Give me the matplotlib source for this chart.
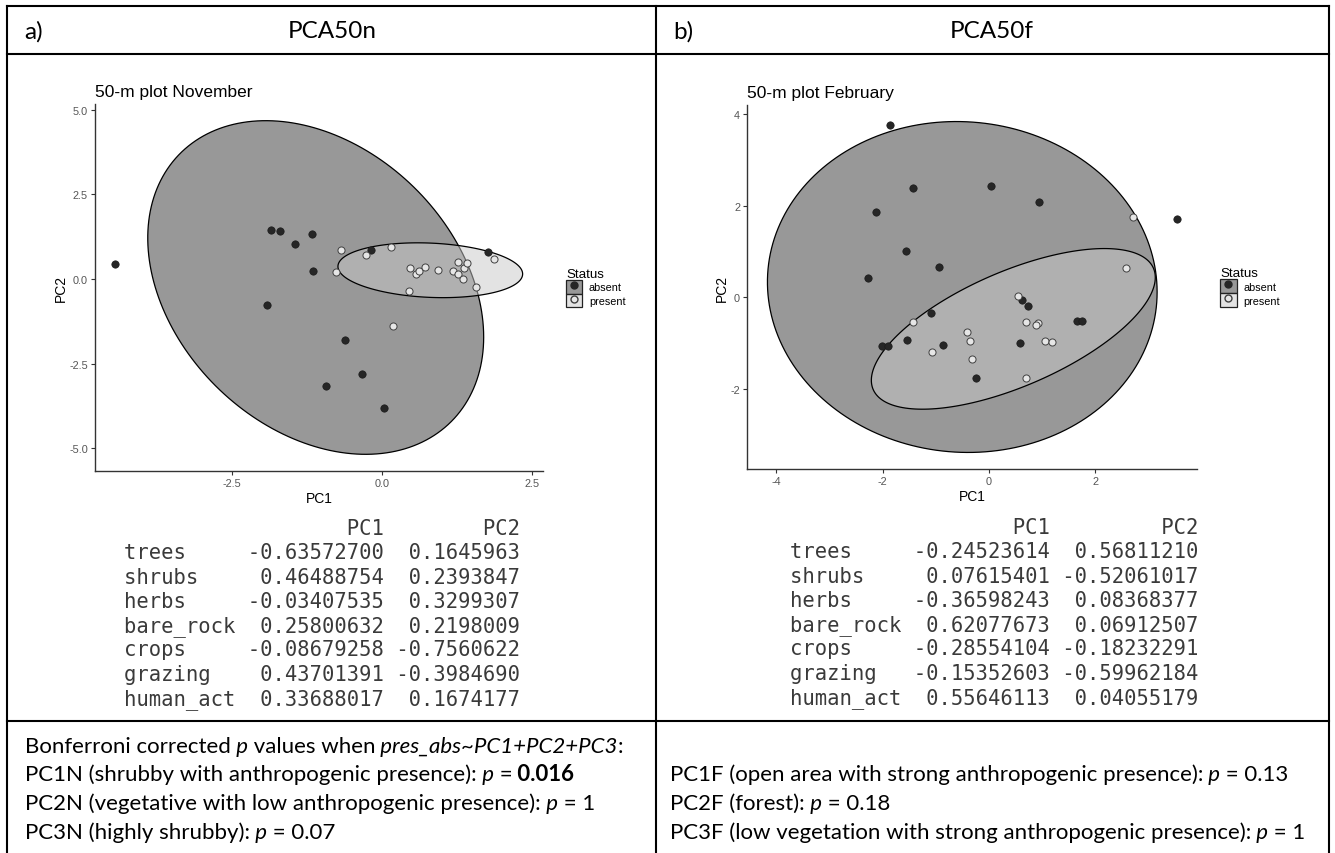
import numpy as np
import matplotlib.pyplot as plt
from matplotlib.patches import Patch, Polygon
from matplotlib.lines import Line2D
from matplotlib.colors import to_rgba

# PCA50n (November) scores
nov_abs_pc1 = [-4.44, -1.85, -1.69, -1.44, -1.17, -1.14, -1.91, -0.18, -0.61, -0.33, -0.93, 0.04, 1.78]
nov_abs_pc2 = [0.45, 1.45, 1.42, 1.03, 1.32, 0.23, -0.76, 0.85, -1.80, -2.80, -3.17, -3.82, 0.80]
nov_pres_pc1 = [-0.68, -0.77, -0.26, 0.15, 0.48, 0.57, 0.63, 0.73, 0.94, 1.19, 1.28, 1.28,
                1.37, 1.42, 1.36, 1.57, 1.87, 0.45, 0.19]
nov_pres_pc2 = [0.85, 0.20, 0.72, 0.94, 0.34, 0.14, 0.24, 0.37, 0.27, 0.23, 0.49, 0.14,
                0.34, 0.47, 0.01, -0.25, 0.58, -0.35, -1.39]

# PCA50f (February) scores
feb_abs_pc1 = [-1.85, -1.42, 0.04, 0.95, -2.12, 3.53, -1.55, -0.93, -2.27, 0.63, 0.73, -1.08,
               1.66, 1.76, -1.54, -2.01, -1.89, -0.86, 0.59, -0.24]
feb_abs_pc2 = [3.77, 2.39, 2.42, 2.07, 1.86, 1.71, 1.01, 0.66, 0.42, -0.07, -0.20, -0.35,
               -0.53, -0.53, -0.93, -1.08, -1.08, -1.04, -1.00, -1.77]
feb_pres_pc1 = [2.71, 2.58, 0.54, -1.43, 0.70, 0.93, 0.89, -0.41, -0.35, 1.06, 1.19, -1.07, -0.31, 0.70]
feb_pres_pc2 = [1.76, 0.64, 0.02, -0.54, -0.55, -0.56, -0.61, -0.77, -0.97, -0.96, -0.99, -1.21, -1.36, -1.76]

# 95% ellipses: centre x, centre y, var x, var y, cov xy
nov_ell_abs = [-1.10, -0.25, 7.84, 24.3, -4.1]
nov_ell_pres = [0.81, 0.26, 2.37, 0.656, -0.17]
feb_ell_abs = [-0.50, 0.22, 13.43, 13.07, -0.4]
feb_ell_pres = [0.46, -0.695, 7.13, 3.08, 3.0]

# loadings tables
variables = ["trees", "shrubs", "herbs", "bare_rock", "crops", "grazing", "human_act"]
nov_load_pc1 = [-0.63572700, 0.46488754, -0.03407535, 0.25800632, -0.08679258, 0.43701391, 0.33688017]
nov_load_pc2 = [0.1645963, 0.2393847, 0.3299307, 0.2198009, -0.7560622, -0.3984690, 0.1674177]
feb_load_pc1 = [-0.24523614, 0.07615401, -0.36598243, 0.62077673, -0.28554104, -0.15352603, 0.55646113]
feb_load_pc2 = [0.56811210, -0.52061017, 0.08368377, 0.06912507, -0.18232291, -0.59962184, 0.04055179]

W, H = 1335, 854
fig = plt.figure(figsize=(W / 100, H / 100), dpi=100)
renderer = fig.canvas.get_renderer()

def fx(px):
    return px / W

def fy(py):
    return 1 - py / H

def hline(x0, x1, y):
    fig.add_artist(Line2D([fx(x0), fx(x1)], [fy(y), fy(y)], color='black', lw=1.5))

def vline(x, y0, y1):
    fig.add_artist(Line2D([fx(x), fx(x)], [fy(y0), fy(y1)], color='black', lw=1.5))

# table frame
hline(7, 1329, 7)
hline(7, 1329, 55)
hline(7, 1329, 722)
vline(7, 7, 854)
vline(656, 7, 854)
vline(1329, 7, 854)

fig.text(fx(24), fy(32), "a)", family='Lato', fontsize=17.5, va='center')
fig.text(fx(332), fy(32), "PCA50n", family='Lato', fontsize=17.5, va='center', ha='center')
fig.text(fx(673), fy(32), "b)", family='Lato', fontsize=17.5, va='center')
fig.text(fx(992), fy(32), "PCA50f", family='Lato', fontsize=17.5, va='center', ha='center')

ABS_FILL = to_rgba('#333333', 0.5)
PRES_FILL = to_rgba('#c8c8c8', 0.5)

def ellipse_xy(e):
    cx, cy, sxx, syy, sxy = e
    L = np.linalg.cholesky(np.array([[sxx, sxy], [sxy, syy]]))
    t = np.linspace(0, 2 * np.pi, 200)
    pts = L @ np.vstack([np.cos(t), np.sin(t)])
    return np.column_stack([pts[0] + cx, pts[1] + cy])

def pca_panel(rect, title, abs_x, abs_y, pres_x, pres_y, ell_abs, ell_pres, xticks, yticks, fmt):
    ax = fig.add_axes(rect)
    e_abs = ellipse_xy(ell_abs)
    e_pres = ellipse_xy(ell_pres)
    ax.add_patch(Polygon(e_abs, closed=True, facecolor=ABS_FILL, edgecolor='black', lw=0.9))
    ax.add_patch(Polygon(e_pres, closed=True, facecolor=PRES_FILL, edgecolor='black', lw=0.9))
    ax.scatter(abs_x, abs_y, s=28, color='#262626', edgecolor='#1a1a1a', lw=0.5, zorder=3)
    ax.scatter(pres_x, pres_y, s=26, color='#e6e6e6', edgecolor='#404040', lw=0.7, zorder=3)
    allx = np.concatenate([abs_x, pres_x, e_abs[:, 0], e_pres[:, 0]])
    ally = np.concatenate([abs_y, pres_y, e_abs[:, 1], e_pres[:, 1]])
    dx = (allx.max() - allx.min()) * 0.05
    dy = (ally.max() - ally.min()) * 0.05
    ax.set_xlim(allx.min() - dx, allx.max() + dx)
    ax.set_ylim(ally.min() - dy, ally.max() + dy)
    ax.set_xticks(xticks)
    ax.set_yticks(yticks)
    ax.set_xticklabels([fmt % v for v in xticks])
    ax.set_yticklabels([fmt % v for v in yticks])
    for s in ['top', 'right']:
        ax.spines[s].set_visible(False)
    for s in ['left', 'bottom']:
        ax.spines[s].set_color('#333333')
        ax.spines[s].set_linewidth(1.0)
    ax.tick_params(length=3, width=0.8, color='#333333', labelcolor='#555555',
                   labelsize=7.8, pad=2)
    for lab in ax.get_xticklabels() + ax.get_yticklabels():
        lab.set_family('Liberation Sans')
    ax.set_xlabel("PC1", family='Liberation Sans', fontsize=10, labelpad=2)
    ax.set_ylabel("PC2", family='Liberation Sans', fontsize=10, labelpad=1)
    ax.set_title(title, loc='left', family='Liberation Sans', fontsize=12.5, pad=6)
    handles = [
        (Patch(facecolor=ABS_FILL, edgecolor='#222222', lw=0.9),
         Line2D([], [], marker='o', ls='', color='#262626', markersize=5)),
        (Patch(facecolor=PRES_FILL, edgecolor='#222222', lw=0.9),
         Line2D([], [], marker='o', ls='', markerfacecolor='#e6e6e6',
                markeredgecolor='#404040', markersize=5)),
    ]
    leg = ax.legend(handles, ["absent", "present"], title="Status", frameon=False,
                    loc='center left', bbox_to_anchor=(1.03, 0.5), handlelength=1.5,
                    handleheight=1.6, handletextpad=0.6, labelspacing=0.0,
                    prop={'family': 'Liberation Sans', 'size': 7.8},
                    title_fontproperties={'family': 'Liberation Sans', 'size': 9.6})
    leg._legend_box.align = 'left'
    return ax

pca_panel([fx(95), fy(472), fx(543) - fx(95), fy(105) - fy(472)], "50-m plot November",
          nov_abs_pc1, nov_abs_pc2, nov_pres_pc1, nov_pres_pc2, nov_ell_abs, nov_ell_pres,
          [-2.5, 0.0, 2.5], [-5.0, -2.5, 0.0, 2.5, 5.0], '%.1f')
pca_panel([fx(747), fy(470), fx(1197) - fx(747), fy(106) - fy(470)], "50-m plot February",
          feb_abs_pc1, feb_abs_pc2, feb_pres_pc1, feb_pres_pc2, feb_ell_abs, feb_ell_pres,
          [-4, -2, 0, 2], [-2, 0, 2, 4], '%d')

# loadings tables in console style
def loadings_table(x, y0, pc1, pc2, d1, d2, w2):
    lines = ["%9s %11s %*s" % ("", "PC1", w2, "PC2")]
    for v, a, b in zip(variables, pc1, pc2):
        lines.append("%-9s %11s %*s" % (v, "%.*f" % (d1, a), w2, "%.*f" % (d2, b)))
    for i, ln in enumerate(lines):
        fig.text(fx(x), fy(y0 + 24.3 * i), ln, family='DejaVu Sans Mono', fontsize=14.8,
                 color='#3a3a3a', va='center', ha='left')

loadings_table(124, 529, nov_load_pc1, nov_load_pc2, 8, 7, 10)
loadings_table(790, 528, feb_load_pc1, feb_load_pc2, 8, 8, 11)

# p-value notes with italic / bold pieces
def rich_line(x, y, parts, size=16):
    for txt, style, weight in parts:
        t = fig.text(fx(x), fy(y), txt, family='Lato', fontsize=size, style=style,
                     weight=weight, va='baseline', ha='left')
        x += t.get_window_extent(renderer).width

n, i, b = ('normal', 'normal'), ('italic', 'normal'), ('normal', 'bold')

def P(txt, st):
    return (txt, st[0], st[1])

base = [753, 781, 810, 839]
rich_line(25, base[0], [P("Bonferroni corrected", n), P(" p", i), P(" values when", n),
                        P(" pres_abs~PC1+PC2+PC3", i), P(":", n)])
rich_line(25, base[1], [P("PC1N (shrubby with anthropogenic presence):", n), P(" p", i),
                        P(" =", n), P(" 0.016", b)])
rich_line(25, base[2], [P("PC2N (vegetative with low anthropogenic presence):", n), P(" p", i),
                        P(" = 1", n)])
rich_line(25, base[3], [P("PC3N (highly shrubby):", n), P(" p", i), P(" = 0.07", n)])

rich_line(670, base[1], [P("PC1F (open area with strong anthropogenic presence):", n), P(" p", i),
                         P(" = 0.13", n)])
rich_line(670, base[2], [P("PC2F (forest):", n), P(" p", i), P(" = 0.18", n)])
rich_line(670, base[3], [P("PC3F (low vegetation with strong anthropogenic presence):", n),
                         P(" p", i), P(" = 1", n)])

fig.savefig("out.png", dpi=100)
